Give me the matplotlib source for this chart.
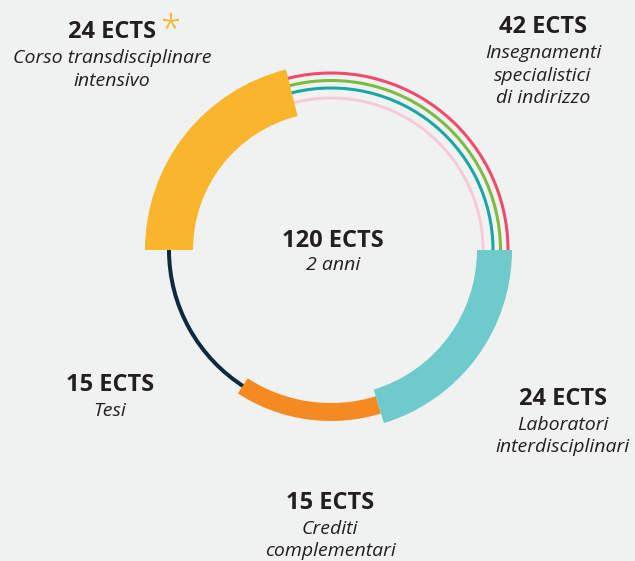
import matplotlib
matplotlib.use("Agg")
import matplotlib.pyplot as plt
from matplotlib.patches import Wedge, Arc

# ---- data ----
segments = ["Corso transdisciplinare\nintensivo",
            "Insegnamenti\nspecialistici\ndi indirizzo",
            "Laboratori\ninterdisciplinari",
            "Crediti\ncomplementari",
            "Tesi"]
ects = [24, 42, 24, 15, 15]
arc_span_deg = [76, 104, 73, 50, 57]   # drawn angular span of each segment
total_label = "120 ECTS"
total_sub = "2 anni"

# ---- style ----
BG = "#F0F1F1"
TXT = "#231F20"
W, H = 635, 561
plt.rcParams['font.family'] = ['Open Sans', 'DejaVu Sans']

fig = plt.figure(figsize=(W / 100, H / 100), dpi=100, facecolor=BG)
ax = fig.add_axes([0, 0, 1, 1])
ax.set_xlim(0, W)
ax.set_ylim(0, H)
ax.set_aspect('equal')
ax.axis('off')
ax.set_facecolor(BG)

cx, cy = 331, H - 250
R = 162

# angle boundaries (clockwise from 180 deg)
bounds = [180]
for s in arc_span_deg:
    bounds.append(bounds[-1] - s)

# Insegnamenti: rainbow lines (below the yellow block)
for r, col, lw in [(177, "#EE4B6E", 2.2), (169.5, "#7DBA42", 2.2),
                   (162, "#1AA6A8", 2.2), (152, "#F6C8DA", 2.0)]:
    ax.add_patch(Arc((cx, cy), 2 * r, 2 * r, theta1=bounds[2],
                     theta2=bounds[1] + 3, color=col, lw=lw, zorder=1))

# Tesi: thin dark line
ax.add_patch(Wedge((cx, cy), R + 2, bounds[5], bounds[4] + 1, width=4,
                   color="#0E2A3B", lw=0, zorder=2))
# Crediti complementari: orange band
ax.add_patch(Wedge((cx, cy), R + 9, bounds[4], bounds[3], width=18,
                   color="#F58B20", lw=0, zorder=3))
# Laboratori: teal block
ax.add_patch(Wedge((cx, cy), R + 19, bounds[3], bounds[2], width=35,
                   color="#6FCACB", lw=0, zorder=4))
# Corso transdisciplinare: yellow block
ax.add_patch(Wedge((cx, cy), R + 24, bounds[1], bounds[0], width=48,
                   color="#F9B52C", lw=0, zorder=5))

# ---- labels ----
BSIZE, ISIZE = 17, 14


def label(x, y, head, body):
    ax.text(x, H - y, head, ha='center', va='center', fontsize=BSIZE,
            fontweight='bold', color=TXT)
    for i, ln in enumerate(body.split("\n")):
        ax.text(x, H - (y + 26 + 22.5 * i), ln, ha='center', va='center',
                fontsize=ISIZE, fontstyle='italic', color=TXT)


label_pos = [(112, 32), (543, 27), (563, 399), (330, 503), (110, 385)]
for (x, y), name, e in zip(label_pos, segments, ects):
    label(x, y, f"{e} ECTS", name)

ax.text(170, H - 31, "*", ha='center', va='center', fontsize=26,
        color="#F9B52C", fontweight='light')

ax.text(cx + 2, H - 241, total_label, ha='center', va='center',
        fontsize=BSIZE, fontweight='bold', color=TXT)
ax.text(cx + 2, H - 265, total_sub, ha='center', va='center',
        fontsize=ISIZE, fontstyle='italic', color=TXT)

fig.savefig("out.png", dpi=100, facecolor=BG)
